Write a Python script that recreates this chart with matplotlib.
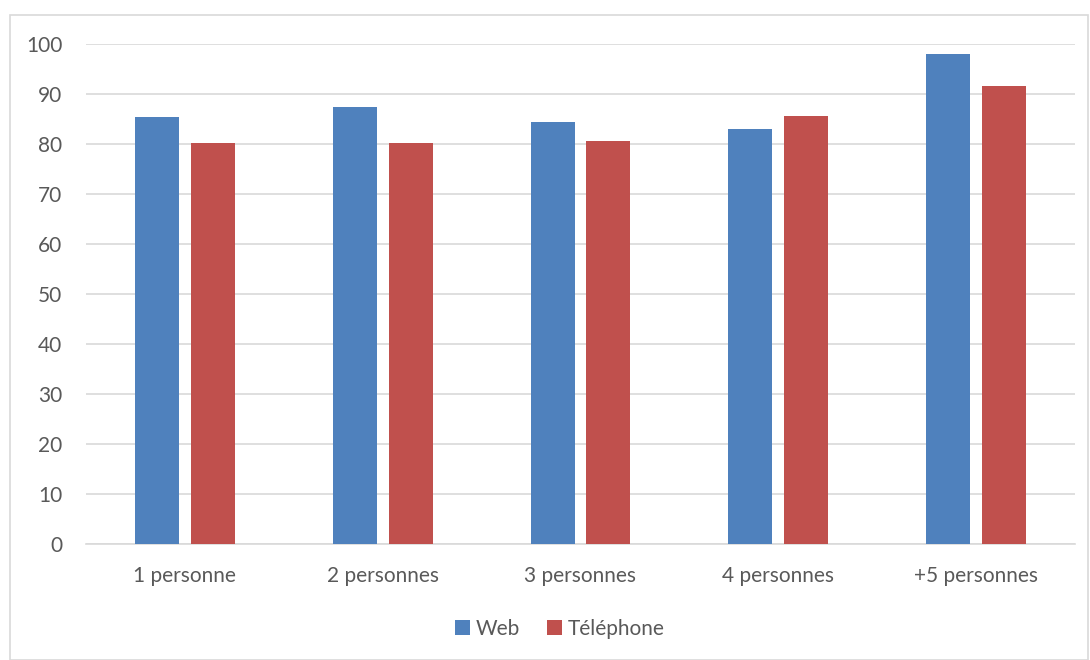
import numpy as np
import matplotlib.pyplot as plt
from matplotlib.patches import Rectangle

# data
categories = ['1 personne', '2 personnes', '3 personnes', '4 personnes', '+5 personnes']
web = [85.5, 87.4, 84.5, 83.1, 98.0]
telephone = [80.2, 80.2, 80.6, 85.6, 91.6]
series_names = ['Web', 'Téléphone']

plt.rcParams['font.family'] = ['Lato', 'DejaVu Sans']
text_col = '#595959'
grid_col = '#d9d9d9'

fig = plt.figure(figsize=(10.9, 6.6), dpi=100)
ax = fig.add_axes([86/1090, 116/660, (1075-86)/1090, 500/660])

# outer chart border
fig.patches.append(Rectangle((10/1090, 0), 1078/1090, 645/660, transform=fig.transFigure,
                             fill=False, edgecolor=grid_col, linewidth=1.2))

x = np.arange(len(categories))
w = 0.222
off = 0.141
ax.bar(x - off, web, w, color='#4F81BD', label=series_names[0], zorder=3)
ax.bar(x + off, telephone, w, color='#C0504D', label=series_names[1], zorder=3)

ax.set_xlim(-0.5, len(categories) - 0.5)
ax.set_ylim(0, 100)
ax.set_yticks(range(0, 101, 10))
ax.set_xticks(x)
ax.set_xticklabels(categories)
ax.yaxis.grid(True, color=grid_col, linewidth=1.2, zorder=0)
for s in ['top', 'right', 'left']:
    ax.spines[s].set_visible(False)
ax.spines['bottom'].set_color(grid_col)
ax.spines['bottom'].set_linewidth(1.2)
ax.tick_params(axis='both', length=0, labelsize=15, colors=text_col)
ax.tick_params(axis='y', pad=17)
ax.tick_params(axis='x', pad=16)

ax.legend(loc='center', bbox_to_anchor=(560/1090, 31/660), bbox_transform=fig.transFigure,
          ncol=2, frameon=False, fontsize=15, labelcolor=text_col,
          handlelength=0.7, handleheight=0.7, handletextpad=0.3, columnspacing=1.3)

fig.savefig('out.png', dpi=100)
